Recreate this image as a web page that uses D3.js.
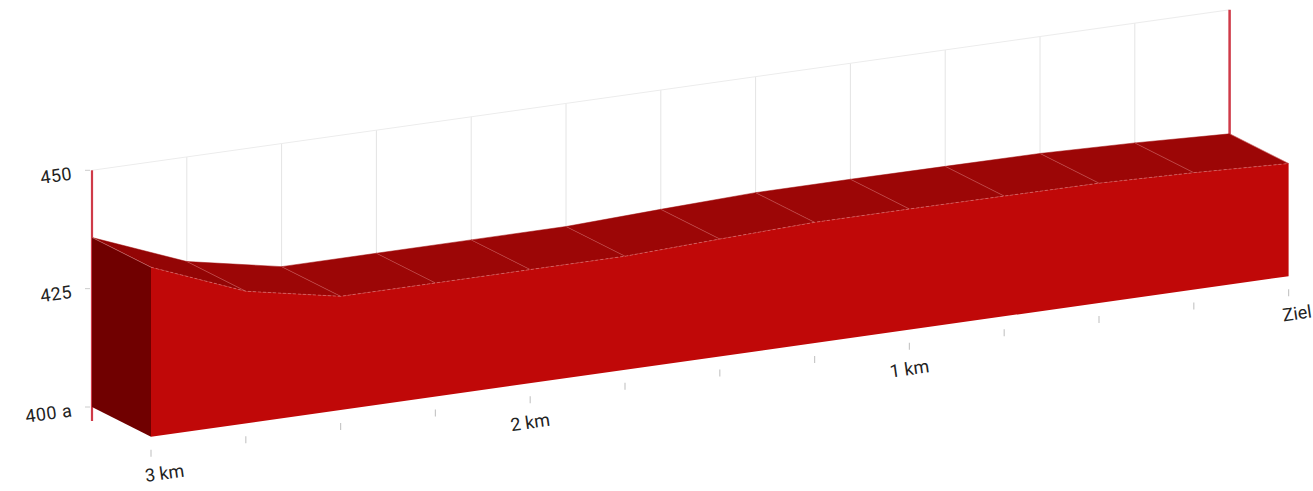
<!DOCTYPE html>
<html>
<head>
<meta charset="utf-8">
<script src="https://cdn.jsdelivr.net/npm/d3@7"></script>
<style>
  html, body { margin: 0; padding: 0; background: #fff; }
  svg { display: block; }
  text { font-family: Roboto, "DejaVu Sans", sans-serif; fill: #222; }
</style>
</head>
<body>
<svg id="chart" width="1313" height="491"></svg>
<script>
// ---- data ----
const distances  = [3, 2.75, 2.5, 2.25, 2, 1.75, 1.5, 1.25, 1, 0.75, 0.5, 0.25, 0];
const elevations = [435.8, 427.9, 424.0, 424.0, 424.0, 424.0, 424.8, 425.5, 425.5, 425.4, 425.3, 424.7, 423.8];
const xTickValues = [3, 2.75, 2.5, 2.25, 2, 1.75, 1.5, 1.25, 1, 0.75, 0.5, 0.25, 0];
const xLabelValues = [3, 2, 1, 0];
const xLabelTexts  = ["3 km", "2 km", "1 km", "Ziel"];
const yTickValues = [400, 425, 450];
const yTickTexts  = ["400 a", "425", "450"];

// ---- projection (oblique 3D) ----
const svg = d3.select("#chart");
const origin = { x: 92, y: 407 };      // back-left, base elevation
const depth  = { x: 59, y: 29.7 };     // back -> front offset
const slope  = -0.1411;                // screen slope of distance axis
const angle  = Math.atan(slope) * 180 / Math.PI;

const x = d3.scaleLinear().domain([3, 0]).range([0, 1137.6]);
const h = d3.scaleLinear().domain([400, 450]).range([0, 236.7]);

function P(d, e, z) {
  const u = x(d);
  return [origin.x + u + z * depth.x, origin.y + u * slope - h(e) + z * depth.y];
}
const pts = distances.map((d, i) => ({ d, e: elevations[i] }));
const line = d3.line();
const dMin = d3.min(distances), dMax = d3.max(distances);
const eBase = h.domain()[0], eTop = h.domain()[1];

// ---- back wall grid ----
const grid = svg.append("g");
xTickValues.filter(d => d !== dMin && d !== dMax).forEach(d => {
  grid.append("path").attr("d", line([P(d, eTop, 0), P(d, eBase, 0)]))
    .attr("stroke", "#e4e4e4").attr("stroke-width", 1).attr("fill", "none");
});
grid.append("path").attr("d", line([P(dMax, eTop, 0), P(dMin, eTop, 0)]))
  .attr("stroke", "#ececec").attr("stroke-width", 1).attr("fill", "none");

// red axis lines
const pl = P(dMax, eTop, 0), pb = P(dMax, eBase, 0);
svg.append("path").attr("d", line([pl, [pb[0], pb[1] + 14]]))
  .attr("stroke", "#cf3a48").attr("stroke-width", 2.2).attr("fill", "none");
svg.append("path").attr("d", line([P(dMin, eTop, 0), P(dMin, eBase, 0)]))
  .attr("stroke", "#cf3a48").attr("stroke-width", 2.5).attr("fill", "none");

// y ticks
yTickValues.forEach((v, i) => {
  const p = P(dMax, v, 0);
  svg.append("path").attr("d", line([[p[0] - 7, p[1]], [p[0] - 2, p[1]]]))
    .attr("stroke", "#cccccc").attr("stroke-width", 1).attr("fill", "none");
  svg.append("text")
    .attr("x", p[0] - 20).attr("y", p[1] + 3)
    .attr("dy", "0.35em")
    .attr("text-anchor", "end")
    .attr("font-size", 18)
    .attr("letter-spacing", 0.5)
    .attr("transform", `rotate(${angle},${p[0] - 20},${p[1] + 3})`)
    .text(yTickTexts[i]);
});

// ---- solid ----
const solid = svg.append("g");
// top surface quads
for (let i = 0; i < pts.length - 1; i++) {
  const a = pts[i], b = pts[i + 1];
  solid.append("path")
    .attr("d", line([P(a.d, a.e, 0), P(b.d, b.e, 0), P(b.d, b.e, 1), P(a.d, a.e, 1)]) + "Z")
    .attr("fill", i === 0 ? "#930505" : "#9c0606")
    .attr("stroke", "#9c0606").attr("stroke-width", 0.5);
}
// diagonal edges on top
pts.forEach(p => {
  solid.append("path").attr("d", line([P(p.d, p.e, 0), P(p.d, p.e, 1)]))
    .attr("stroke", "rgba(255,190,190,0.35)").attr("stroke-width", 0.8).attr("fill", "none");
});
// front face
const front = pts.map(p => P(p.d, p.e, 1));
const frontPoly = [P(dMax, eBase, 1)].concat(front, [P(dMin, eBase, 1)]);
solid.append("path").attr("d", line(frontPoly) + "Z").attr("fill", "#c00808");
solid.append("path").attr("d", line(front))
  .attr("stroke", "rgba(255,200,200,0.45)").attr("stroke-width", 0.8)
  .attr("stroke-dasharray", "3,2").attr("fill", "none");
// left face
const p0 = pts[0];
solid.append("path")
  .attr("d", line([P(p0.d, p0.e, 0), P(p0.d, p0.e, 1), P(p0.d, eBase, 1), P(p0.d, eBase, 0)]) + "Z")
  .attr("fill", "#700000");
solid.append("path").attr("d", line([P(p0.d, p0.e, 0), P(p0.d, p0.e, 1)]))
  .attr("stroke", "rgba(255,190,190,0.35)").attr("stroke-width", 0.8).attr("fill", "none");

// ---- x ticks & labels (front) ----
xTickValues.forEach(d => {
  const p = P(d, eBase, 1);
  svg.append("path").attr("d", line([[p[0], p[1] + 13], [p[0], p[1] + 20]]))
    .attr("stroke", "#c8c8c8").attr("stroke-width", 1.2).attr("fill", "none");
});
xLabelValues.forEach((d, i) => {
  const p = P(d, eBase, 1);
  const edge = (d === dMax || d === dMin);
  const ax = edge ? p[0] - 6 : p[0];
  const ay = p[1] + 39;
  svg.append("text")
    .attr("x", ax).attr("y", ay).attr("dy", "0.35em")
    .attr("text-anchor", edge ? "start" : "middle")
    .attr("font-size", 18)
    .attr("transform", `rotate(${angle},${ax},${ay})`)
    .text(xLabelTexts[i]);
});
</script>
</body>
</html>
